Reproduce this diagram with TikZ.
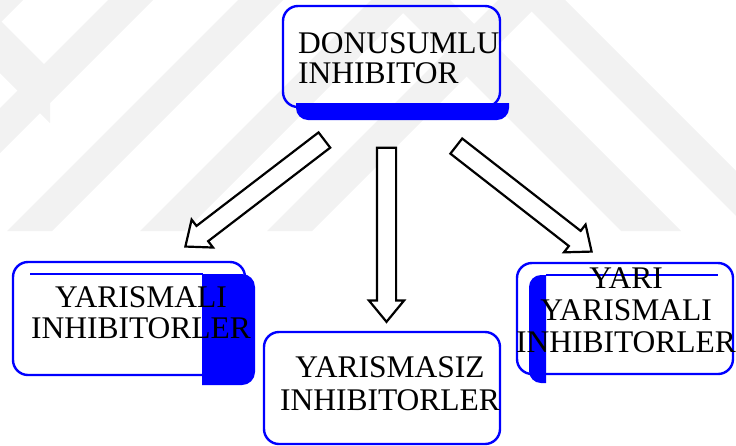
\documentclass[tikz,border=0pt]{standalone}
\usepackage{fontspec}
\setmainfont{Liberation Serif}
\usetikzlibrary{shapes.arrows,calc}

\newcommand\stackc[2]{\vtop{\baselineskip=#1pt\lineskiplimit=-100pt\halign{\hfil##\hfil\cr#2\crcr}}}
\newcommand\stackl[2]{\vtop{\baselineskip=#1pt\lineskiplimit=-100pt\halign{##\hfil\cr#2\crcr}}}
\newcommand\barrow[3]{%
  \path let \p1=(#2), \p2=(#3),
    \n1={atan2(\y2-\y1,\x2-\x1)}, \n2={veclen(\x2-\x1,\y2-\y1)} in
    node[blockarrow, minimum height=\n2, rotate=\n1] (#1) at ($(#2)!0.5!(#3)$) {};}

\tikzset{
  wm/.style={fill=black!5, draw=none},
  boxline/.style={draw=blue, line width=2.4pt, rounded corners=15pt, rectangle, inner sep=0pt},
  bluefill/.style={fill=blue, draw=none},
  thinline/.style={draw=blue, line width=1.2pt},
  blockarrow/.style={single arrow, draw=black, fill=white, line width=2.2pt,
    inner xsep=0pt, inner ysep=8.5pt, minimum width=33pt,
    single arrow head extend=8pt, single arrow tip angle=79},
  lbl/.style={inner sep=0pt, font=\fontsize{31.5}{31}\selectfont}
}

\begin{document}
\begin{tikzpicture}[x=1pt,y=1pt]
\useasboundingbox (0,0) rectangle (736,-445);

% faint watermark
\begin{scope}
  \clip (0,0) rectangle (736,-231);
  \foreach \b in {-253,-123,7,140,267}{
    \fill[wm] (\b,-231) -- ({\b+45},-231) -- ({\b+45+231},0) -- ({\b+231},0) -- cycle;
  }
  \fill[wm] (390,0) -- (450,0) -- (681,-231) -- (621,-231) -- cycle;
  \fill[wm] (520,0) -- (565,0) -- (796,-231) -- (751,-231) -- cycle;
  \fill[wm] (0,-20) -- (50,-70) -- (50,-123) -- (0,-73) -- cycle;
\end{scope}

% top box
\node[boxline, minimum width=217pt, minimum height=101pt] (top) at (391.5,-56.5) {};
\fill[bluefill] (296,-103) -- (509,-103) -- (509,-108)
  arc[start angle=0,end angle=-90,radius=12] -- (308,-120)
  arc[start angle=270,end angle=180,radius=12] -- cycle;
\node[lbl, anchor=base west] (toptxt) at (298,-53) {\stackl{30}{DONUSUMLU\cr INHIBITOR}};

% left box
\node[boxline, minimum width=232pt, minimum height=113pt] (left) at (129,-318.5) {};
\draw[thinline] (30,-274) -- (203,-274);
\fill[bluefill] (202,-274) -- (242,-274)
  arc[start angle=90,end angle=0,radius=13] -- (255,-372)
  arc[start angle=0,end angle=-90,radius=13] -- (202,-385) -- cycle;
\node[lbl, anchor=base] (lefttxt) at (141,-307) {\stackc{31}{YARISMALI\cr INHIBITORLER}};

% middle box
\node[boxline, minimum width=236pt, minimum height=112pt] (mid) at (382,-388) {};
\node[lbl, anchor=base] (midtxt) at (390,-377) {\stackc{33}{YARISMASIZ\cr INHIBITORLER}};

% right box
\node[boxline, minimum width=216pt, minimum height=111pt] (right) at (625,-318.5) {};
\draw[thinline] (546,-275) -- (718,-275);
\fill[bluefill] (546,-275) -- (546,-383) -- (541,-383)
  arc[start angle=270,end angle=180,radius=12] -- (529,-287)
  arc[start angle=180,end angle=90,radius=12] -- cycle;
\node[lbl, anchor=base] (righttxt) at (626,-288) {\stackc{32}{YARI\cr YARISMALI\cr INHIBITORLER}};

% block arrows
\coordinate (a1s) at (329,-136.5);
\coordinate (a1e) at (190,-243);
\coordinate (a2s) at (386.5,-142);
\coordinate (a2e) at (386.5,-316);
\coordinate (a3s) at (451.7,-142.5);
\coordinate (a3e) at (587,-248);
\barrow{arrL}{a1s}{a1e}
\barrow{arrM}{a2s}{a2e}
\barrow{arrR}{a3s}{a3e}
\end{tikzpicture}
\end{document}
